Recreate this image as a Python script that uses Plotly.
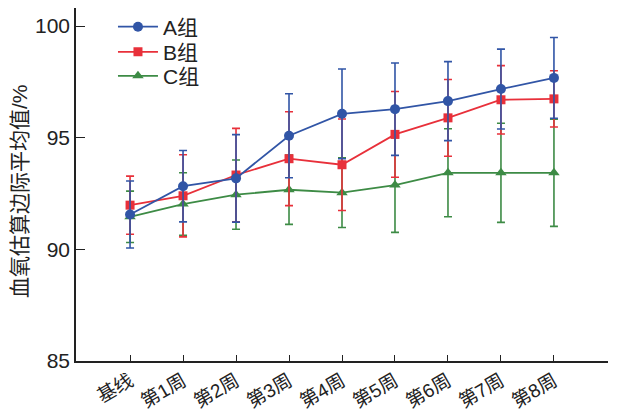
import plotly.graph_objects as go

categories = ["基线", "第1周", "第2周", "第3周", "第4周", "第5周", "第6周", "第7周", "第8周"]
group_names = ["A组", "B组", "C组"]

a_mean = [91.56, 92.83, 93.18, 95.09, 96.07, 96.28, 96.64, 97.18, 97.68]
a_err = [1.50, 1.60, 1.96, 1.88, 2.01, 2.07, 1.77, 1.79, 1.81]
b_mean = [91.98, 92.40, 93.33, 94.06, 93.79, 95.15, 95.89, 96.70, 96.74]
b_err = [1.30, 1.84, 2.09, 2.10, 2.05, 1.92, 1.72, 1.53, 1.26]
c_mean = [91.46, 92.03, 92.45, 92.67, 92.54, 92.88, 93.43, 93.43, 93.43]
c_err = [1.15, 1.40, 1.55, 1.55, 1.56, 2.12, 1.97, 2.22, 2.40]

colors = {"A组": "#3155A6", "B组": "#E8303A", "C组": "#3D8B45"}
symbols = {"A组": "circle", "B组": "square", "C组": "triangle-up"}
legend_ids = {"A组": "legend", "B组": "legend2", "C组": "legend3"}
series = {"A组": (a_mean, a_err), "B组": (b_mean, b_err), "C组": (c_mean, c_err)}

xs = list(range(len(categories)))
fig = go.Figure()
for name in ["C组", "B组", "A组"]:
    m, e = series[name]
    fig.add_trace(go.Scatter(
        x=xs, y=m, name=name, mode="lines+markers",
        line=dict(color=colors[name], width=1.8),
        marker=dict(symbol=symbols[name], size=10 if name != "B组" else 9, color=colors[name]),
        error_y=dict(type="data", array=e, visible=True, color=colors[name], thickness=1.6, width=4),
        legend=legend_ids[name],
    ))

font_family = "Liberation Sans, Arial, Noto Sans CJK SC, sans-serif"
legend_common = dict(xanchor="left", yanchor="middle", bgcolor="rgba(0,0,0,0)",
                     font=dict(size=21, family=font_family, color="#222222"), itemwidth=40)
# page body has an 8px margin, so the figure is 8px smaller and margins reduced accordingly
fig.update_layout(
    width=613, height=404,
    margin=dict(l=68, r=13, t=0, b=51, autoexpand=False),
    paper_bgcolor="white", plot_bgcolor="white",
    font=dict(family=font_family, size=20, color="#222222"),
    showlegend=True,
    legend=dict(x=0.0695, y=0.946, **legend_common),
    legend2=dict(x=0.0695, y=0.875, **legend_common),
    legend3=dict(x=0.0695, y=0.807, **legend_common),
    xaxis=dict(
        range=[-1.02, 9.02], tickmode="array", tickvals=xs, ticktext=categories,
        tickangle=-30, ticks="inside", ticklen=6, tickwidth=1.2, tickcolor="#222222",
        showline=True, linecolor="#222222", linewidth=1.5, showgrid=False, zeroline=False,
        tickfont=dict(size=19, family=font_family),
    ),
    yaxis=dict(
        range=[85, 100.81], tickvals=[85, 90, 95, 100], ticks="inside", ticklen=9,
        tickwidth=1.2, tickcolor="#222222", showline=True, linecolor="#222222", linewidth=1.5,
        showgrid=False, zeroline=False, tickfont=dict(size=21, family=font_family),
    ),
)
fig.add_annotation(
    text="血氧估算边际平均值/%", xref="paper", yref="paper",
    x=(20 - 76) / 532, y=(361 - 191) / 353, xanchor="center", yanchor="middle",
    textangle=-90, showarrow=False,
    font=dict(size=21, family=font_family, color="#222222"),
)
fig.write_html("out.html")
